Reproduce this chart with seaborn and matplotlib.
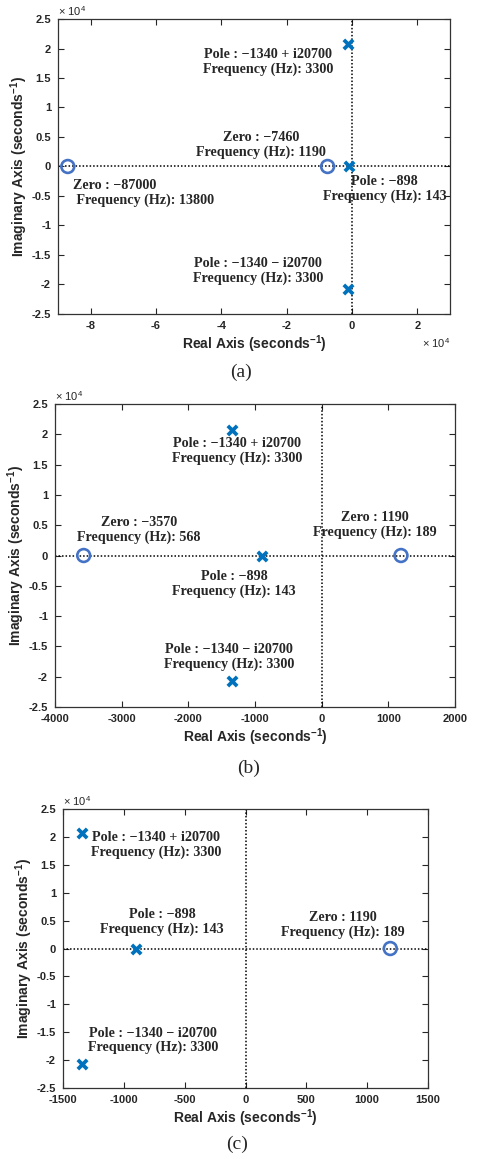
import matplotlib
matplotlib.use("Agg")
import matplotlib.pyplot as plt
from matplotlib.ticker import FuncFormatter
import seaborn as sns
import pandas as pd

# ---------------- Data ----------------
pole_re = [-1340, -1340, -898]
pole_im = [20700, -20700, 0]

zeros_a = [-87000, -7460]
zeros_b = [-3570, 1190]
zeros_c = [1190]

xlims = [(-90000, 30000), (-4000, 2000), (-1500, 1500)]
xticks = [[-80000, -60000, -40000, -20000, 0, 20000],
          [-4000, -3000, -2000, -1000, 0, 1000, 2000],
          [-1500, -1000, -500, 0, 500, 1000, 1500]]
yticks = [-25000, -20000, -15000, -10000, -5000, 0, 5000, 10000, 15000, 20000, 25000]

lbl_pole_up = "Pole : \u22121340 + i20700\nFrequency (Hz): 3300"
lbl_pole_dn = "Pole : \u22121340 \u2212 i20700\nFrequency (Hz): 3300"
lbl_pole_898 = "Pole : \u2212898\nFrequency (Hz): 143"
lbl_zero_87000 = "Zero : \u221287000\n Frequency (Hz): 13800"
lbl_zero_7460 = "Zero : \u22127460\nFrequency (Hz): 1190"
lbl_zero_3570 = "Zero : \u22123570\nFrequency (Hz): 568"
lbl_zero_1190 = "Zero : 1190\nFrequency (Hz): 189"

# ---------------- Style ----------------
sns.set_style("ticks")
plt.rcParams['font.family'] = ['Liberation Sans', 'DejaVu Sans']
plt.rcParams['font.weight'] = 'bold'
plt.rcParams['axes.unicode_minus'] = False
plt.rcParams['mathtext.fontset'] = 'custom'
plt.rcParams['mathtext.rm'] = 'Liberation Sans:bold'
plt.rcParams['mathtext.bf'] = 'Liberation Sans:bold'

POLE_C = '#0072BD'
ZERO_C = '#4472C4'
SERIF = ['Liberation Serif', 'DejaVu Serif']

fig = plt.figure(figsize=(4.78, 11.59), dpi=100)

panels = [
    dict(rect=[0.1213, 0.7291, 0.8200, 0.2545], zeros=zeros_a, xsci=True, cap='(a)', capx=0.504, capy=0.6790,
         labels=[(lbl_pole_up, -25700, 17700, 'center'),
                 (lbl_zero_7460, -27900, 3640, 'center'),
                 (lbl_zero_87000, -85400, -4490, 'left'),
                 (lbl_pole_898, 10060, -3815, 'center'),
                 (lbl_pole_dn, -28800, -17700, 'center')]),
    dict(rect=[0.1151, 0.3900, 0.8368, 0.2614], zeros=zeros_b, xsci=False, cap='(b)', capx=0.519, capy=0.3370,
         labels=[(lbl_pole_up, -1270, 17245, 'center'),
                 (lbl_zero_3570, -2740, 4210, 'center'),
                 (lbl_zero_1190, 800, 5035, 'center'),
                 (lbl_pole_898, -1315, -4700, 'center'),
                 (lbl_pole_dn, -1390, -16745, 'center')]),
    dict(rect=[0.1318, 0.06126, 0.7636, 0.2407], zeros=zeros_c, xsci=False, cap='(c)', capx=0.496, capy=0.0125,
         labels=[(lbl_pole_up, -735, 18550, 'center'),
                 (lbl_pole_898, -686, 4770, 'center'),
                 (lbl_zero_1190, 802, 4236, 'center'),
                 (lbl_pole_dn, -760, -16530, 'center')]),
]

for i, p in enumerate(panels):
    ax = fig.add_axes(p['rect'])
    ax.axhline(0, color='black', ls=(0, (1, 1.3)), lw=1.1, zorder=1)
    ax.axvline(0, color='black', ls=(0, (1, 1.3)), lw=1.1, zorder=1)

    poles = pd.DataFrame({'re': pole_re, 'im': pole_im})
    zeros = pd.DataFrame({'re': p['zeros'], 'im': [0] * len(p['zeros'])})
    sns.scatterplot(data=zeros, x='re', y='im', ax=ax, marker='o', s=85,
                    facecolor='none', edgecolor=ZERO_C, linewidth=1.9, zorder=3)
    sns.scatterplot(data=poles, x='re', y='im', ax=ax, marker='x', s=45,
                    color=POLE_C, linewidth=2.7, zorder=4)

    for txt, tx, ty, ha in p['labels']:
        ax.text(tx, ty, txt, ha=ha, va='center', family=SERIF, fontweight='bold',
                fontsize=10.2, linespacing=1.1)

    ax.set_xlim(*xlims[i])
    ax.set_ylim(-25000, 25000)
    ax.set_xticks(xticks[i])
    ax.set_yticks(yticks)
    ax.yaxis.set_major_formatter(FuncFormatter(lambda v, _: '%g' % (v / 1e4)))
    if p['xsci']:
        ax.xaxis.set_major_formatter(FuncFormatter(lambda v, _: '%g' % (v / 1e4)))
        ax.text(1.0, -0.075, '\u00d7 10$^{\\mathregular{4}}$', transform=ax.transAxes,
                ha='right', va='top', fontsize=8, fontweight='normal')
    else:
        ax.xaxis.set_major_formatter(FuncFormatter(lambda v, _: '%g' % v))
    ax.text(0.0, 1.005, '\u00d7 10$^{\\mathregular{4}}$', transform=ax.transAxes,
            ha='left', va='bottom', fontsize=8, fontweight='normal')

    ax.tick_params(direction='in', top=True, right=True, length=4, width=0.8,
                   labelsize=8, pad=5)
    for lab in ax.get_xticklabels() + ax.get_yticklabels():
        lab.set_fontweight('bold')
    for s in ax.spines.values():
        s.set_visible(True)
        s.set_linewidth(0.9)
        s.set_color('#333333')

    ax.set_xlabel('Real Axis (seconds$^{-1}$)', fontsize=10, fontweight='bold', labelpad=2)
    ax.set_ylabel('Imaginary Axis (seconds$^{-1}$)', fontsize=10, fontweight='bold', labelpad=1)

    fig.text(p['capx'], p['capy'], p['cap'], ha='center', va='center', family=SERIF,
             fontsize=14, fontweight='normal')

fig.savefig('out.png', dpi=100)
